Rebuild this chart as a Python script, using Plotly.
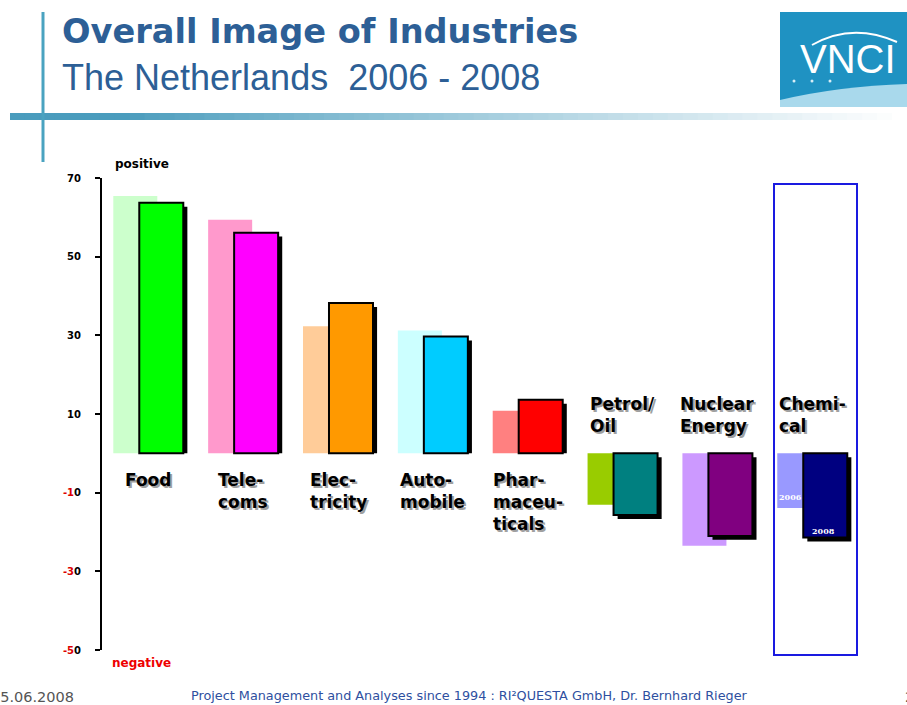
import plotly.graph_objects as go

# ---------------- data ----------------
categories = ["Food", "Tele-<br>coms", "Elec-<br>tricity", "Auto-<br>mobile",
              "Phar-<br>maceu-<br>ticals", "Petrol/<br>Oil", "Nuclear<br>Energy", "Chemi-<br>cal"]
values_2006 = [65.4, 59.4, 32.3, 31.2, 10.8, -13.1, -23.5, -13.9]
values_2008 = [63.7, 56.1, 38.2, 29.7, 13.6, -15.7, -21.0, -21.4]
colors_2006 = ["#ccffcc", "#ff99cc", "#ffcc99", "#ccffff", "#ff8080", "#99cc00", "#cc99ff", "#9999ff"]
colors_2008 = ["#00ff00", "#ff00ff", "#ff9900", "#00ccff", "#ff0000", "#008080", "#800080", "#000080"]
y_tick_values = [70, 50, 30, 10, -10, -30, -50]
y_tick_labels = ["70", "50", "30", "10",
                 "<span style='color:#dd0000'>-1</span>0",
                 "<span style='color:#dd0000'>-3</span>0",
                 "<span style='color:#dd0000'>-5</span>0"]

# ---------------- geometry helpers ----------------
W_FIG, H_FIG = 907, 705
L, R, T, B = 102, 27, 178, 55
PW, PH = W_FIG - L - R, H_FIG - T - B


def px(xp):
    return (xp - L) / PW


def py(yp):
    return (H_FIG - B - yp) / PH


x = list(range(len(categories)))
shadow_len = [v - 1 if v > 0 else v for v in values_2008]
shadow_base = [0 if v > 0 else -1 for v in values_2008]

fig = go.Figure()
fig.add_trace(go.Bar(x=x, y=values_2006, marker=dict(color=colors_2006, line=dict(width=0)),
                     width=0.464, offset=-0.369, name="2006", hoverinfo="y"))
fig.add_trace(go.Bar(x=x, y=shadow_len, base=shadow_base,
                     marker=dict(color="#000000", line=dict(width=0)),
                     width=0.464, offset=-0.052, name="shadow", hoverinfo="skip"))
fig.add_trace(go.Bar(x=x, y=values_2008, marker=dict(color=colors_2008, line=dict(width=2, color="#000000")),
                     width=0.464, offset=-0.095, name="2008", hoverinfo="y"))

annotations = []
# category labels with grey drop shadow
for i, (cat, v) in enumerate(zip(categories, values_2008)):
    pos = v > 0
    for col, dx, dy in (("#a0a0a0", 2, -2), ("#000000", 0, 0)):
        annotations.append(dict(
            x=i, y=0, xref="x", yref="y", text=cat, showarrow=False,
            xanchor="center", align="left",
            yanchor="top" if pos else "bottom",
            yshift=(-15 if pos else 15) + dy, xshift=dx,
            font=dict(family="DejaVu Sans", size=17, color=col, weight="bold")))

# year labels inside the chemical bars
annotations.append(dict(x=6.768, y=values_2006[7] + 2.8, xref="x", yref="y", text="<b>2006</b>",
                        showarrow=False, font=dict(family="DejaVu Serif", size=8, color="#ffffff")))
annotations.append(dict(x=7.116, y=values_2008[7] + 1.7, xref="x", yref="y", text="<b>2008</b>",
                        showarrow=False, font=dict(family="DejaVu Serif", size=8, color="#ffffff")))

# positive / negative
annotations.append(dict(x=px(113), y=py(164), xref="paper", yref="paper", text="<b>positive</b>",
                        showarrow=False, xanchor="left", yanchor="middle",
                        font=dict(family="DejaVu Sans", size=12, color="#000000")))
annotations.append(dict(x=px(110), y=py(663), xref="paper", yref="paper", text="<b>negative</b>",
                        showarrow=False, xanchor="left", yanchor="middle",
                        font=dict(family="DejaVu Sans", size=12, color="#ee0000")))

# titles
annotations.append(dict(x=px(60), y=py(32), xref="paper", yref="paper",
                        text="<b>Overall Image of Industries</b>", showarrow=False,
                        xanchor="left", yanchor="middle",
                        font=dict(family="DejaVu Sans", size=33.6, color="#2d5f96")))
annotations.append(dict(x=px(60), y=py(78), xref="paper", yref="paper",
                        text="The Netherlands  2006 - 2008", showarrow=False,
                        xanchor="left", yanchor="middle",
                        font=dict(family="Liberation Sans", size=36, color="#2d5f96")))

# logo text
annotations.append(dict(x=px(848), y=py(59), xref="paper", yref="paper", text="VNCI",
                        showarrow=False, xanchor="center", yanchor="middle",
                        font=dict(family="Liberation Sans", size=40, color="#ffffff")))

# footer
annotations.append(dict(x=px(76), y=py(697), xref="paper", yref="paper", text="15.06.2008",
                        showarrow=False, xanchor="right", yanchor="middle",
                        font=dict(family="DejaVu Sans", size=14.5, color="#555555")))
annotations.append(dict(x=px(469), y=py(695), xref="paper", yref="paper",
                        text="Project Management and Analyses since 1994 : RI²QUESTA GmbH, Dr. Bernhard Rieger",
                        showarrow=False, xanchor="center", yanchor="middle",
                        font=dict(family="DejaVu Sans", size=12.8, color="#2e4fa0")))
annotations.append(dict(x=px(903), y=py(697), xref="paper", yref="paper", text="2",
                        showarrow=False, xanchor="left", yanchor="middle",
                        font=dict(family="DejaVu Sans", size=14, color="#555555")))

shapes = []
# gradient horizontal rule
n_seg = 60
x0g, x1g = 10, 907
c0 = (74, 156, 189)
for k in range(n_seg):
    a = x0g + (x1g - x0g) * k / n_seg
    b = x0g + (x1g - x0g) * (k + 1) / n_seg
    t = k / (n_seg - 1)
    f = max(0.0, (t - 0.12) / 0.88) ** 0.9
    col = tuple(int(c + (255 - c) * f) for c in c0)
    shapes.append(dict(type="rect", xref="paper", yref="paper",
                       x0=px(a), x1=px(b) + 0.001, y0=py(120), y1=py(113),
                       line=dict(width=0), fillcolor="rgb(%d,%d,%d)" % col, layer="below"))
# vertical rule
shapes.append(dict(type="line", xref="paper", yref="paper", x0=px(43), x1=px(43),
                   y0=py(12), y1=py(162), line=dict(color="#4aa3c0", width=3)))
# logo
shapes.append(dict(type="rect", xref="paper", yref="paper", x0=px(780), x1=px(908),
                   y0=py(107), y1=py(12), line=dict(width=0), fillcolor="#1f92c2"))
shapes.append(dict(type="path", xref="paper", yref="paper",
                   path="M %f %f Q %f %f %f %f L %f %f L %f %f Z" % (
                       px(780), py(100), px(840), py(86), px(908), py(84),
                       px(908), py(107), px(780), py(107)),
                   line=dict(width=0), fillcolor="#a9d9ec"))
shapes.append(dict(type="path", xref="paper", yref="paper",
                   path="M %f %f Q %f %f %f %f" % (px(812), py(45), px(852), py(22), px(897), py(42)),
                   line=dict(color="#ffffff", width=2)))
for dxp in (794, 812, 830):
    shapes.append(dict(type="circle", xref="paper", yref="paper",
                       x0=px(dxp - 1.5), x1=px(dxp + 1.5), y0=py(82.5), y1=py(79.5),
                       line=dict(width=0), fillcolor="#d8eef7"))
# highlight box around chemical
shapes.append(dict(type="rect", xref="paper", yref="paper", x0=px(774), x1=px(857),
                   y0=py(655), y1=py(184), line=dict(color="#1a1ae0", width=2),
                   fillcolor="rgba(0,0,0,0)"))

fig.update_layout(
    width=W_FIG, height=H_FIG,
    margin=dict(l=L, r=R, t=T, b=B, pad=0),
    paper_bgcolor="#ffffff", plot_bgcolor="#ffffff",
    barmode="overlay", showlegend=False,
    annotations=annotations, shapes=shapes,
    xaxis=dict(range=[-0.488, 7.714], visible=False, fixedrange=True),
    yaxis=dict(range=[-50, 70], tickvals=y_tick_values, ticktext=y_tick_labels,
               showgrid=False, zeroline=False, showline=True, linecolor="#000000", linewidth=2,
               ticks="outside", ticklen=5, tickwidth=2, tickcolor="#000000",
               ticklabelstandoff=12,
               tickfont=dict(family="DejaVu Sans", size=10, color="#000000", weight="bold"),
               fixedrange=True),
)

fig.write_html(
    "out.html",
    config={"displayModeBar": False},
    post_script="document.body.style.margin='0';document.body.style.padding='0';"
                "document.body.style.overflow='hidden';",
)
